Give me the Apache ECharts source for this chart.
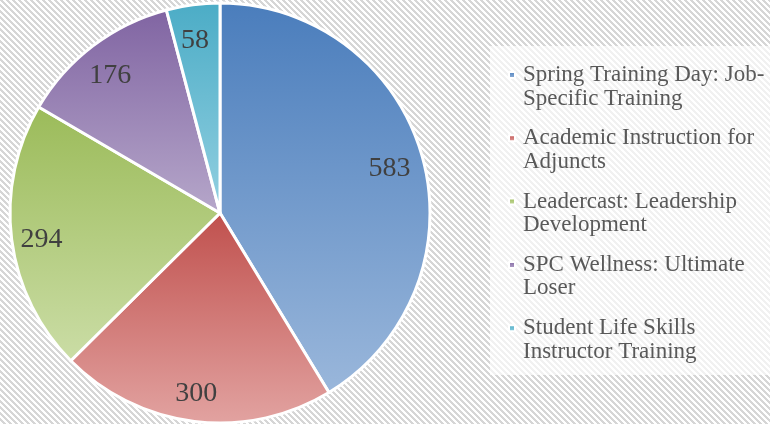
<!DOCTYPE html>
<html>
<head>
<meta charset="utf-8">
<script src="https://cdn.jsdelivr.net/npm/echarts@6/dist/echarts.min.js"></script>
<style>
  html, body { margin: 0; padding: 0; background: #fff; }
  #chart { width: 770px; height: 424px; }
</style>
</head>
<body>
<div id="chart"></div>
<script>
// Training programme attendance
const categories = [
  'Spring Training Day: Job-Specific Training',
  'Academic Instruction for Adjuncts',
  'Leadercast: Leadership Development',
  'SPC Wellness: Ultimate Loser',
  'Student Life Skills Instructor Training'
];
const attendance = [583, 300, 294, 176, 58];
// Legend text as it wraps on two lines
const legendLines = [
  'Spring Training Day: Job-\nSpecific Training',
  'Academic Instruction for\nAdjuncts',
  'Leadercast: Leadership\nDevelopment',
  'SPC Wellness: Ultimate\nLoser',
  'Student Life Skills\nInstructor Training'
];
// Slice fills: darker at the top, lighter towards the bottom
const topColors = ['#4a7dbc', '#c0504d', '#9bbb59', '#8064a2', '#4bacc6'];
const bottomColors = ['#9ab7db', '#e2a3a1', '#cbdda6', '#b6a7ca', '#93d0e1'];

// Diagonal hatch tile for the page background
function hatchTile() {
  const n = 6;
  const c = document.createElement('canvas');
  c.width = n; c.height = n;
  const g = c.getContext('2d');
  g.fillStyle = '#ffffff';
  g.fillRect(0, 0, n, n);
  g.fillStyle = '#d6d6d6';
  for (let y = 0; y < n; y++) {
    for (let x = 0; x < n; x++) {
      if (((x - y) % n + n) % n < 3) g.fillRect(x, y, 1, 1);
    }
  }
  return c;
}

const chart = echarts.init(document.getElementById('chart'), null, { renderer: 'canvas' });

const pieData = categories.map((name, i) => ({
  name: name,
  value: attendance[i],
  itemStyle: {
    color: new echarts.graphic.LinearGradient(0, 0, 0, 1, [
      { offset: 0, color: topColors[i] },
      { offset: 1, color: bottomColors[i] }
    ])
  }
}));

const labelData = categories.map((name, i) => ({ name: name, value: attendance[i] }));

const LINE = 23.5;

chart.setOption({
  animation: false,
  graphic: [
    {
      type: 'rect', z: -10, silent: true,
      shape: { x: 0, y: 0, width: 770, height: 424 },
      style: { fill: { image: hatchTile(), repeat: 'repeat' } }
    },
    {
      type: 'rect', z: -5, silent: true,
      shape: { x: 490, y: 46, width: 280, height: 329 },
      style: { fill: 'rgba(255,255,255,0.65)' }
    }
  ],
  legend: {
    orient: 'vertical',
    left: 508,
    top: 75 - LINE * 1.5,
    padding: 0,
    itemWidth: 6,
    itemHeight: 6,
    itemGap: 63.3 - LINE * 3,
    icon: 'rect',
    selectedMode: false,
    data: categories,
    // a blank first line keeps the marker level with the first text line
    formatter: function (name) {
      return '\n' + legendLines[categories.indexOf(name)];
    },
    textStyle: {
      fontFamily: 'Liberation Serif',
      fontSize: 23,
      color: '#595959',
      lineHeight: LINE,
      padding: [0, 0, 0, 3]
    }
  },
  series: [
    {
      type: 'pie',
      center: [220, 213],
      radius: [0, 210],
      startAngle: 90,
      clockwise: true,
      silent: true,
      label: { show: false },
      labelLine: { show: false },
      itemStyle: { borderColor: '#ffffff', borderWidth: 3 },
      data: pieData,
      z: 2
    },
    {
      // transparent ring that only carries the value labels
      type: 'pie',
      center: [220, 213],
      radius: [140, 210],
      startAngle: 90,
      clockwise: true,
      silent: true,
      itemStyle: { color: 'rgba(0,0,0,0)', borderWidth: 0 },
      label: {
        show: true,
        position: 'inside',
        formatter: '{c}',
        fontFamily: 'Liberation Serif',
        fontSize: 28,
        color: '#404040',
        offset: [-2, 4]
      },
      labelLine: { show: false },
      data: labelData,
      z: 3
    }
  ]
});
</script>
</body>
</html>
